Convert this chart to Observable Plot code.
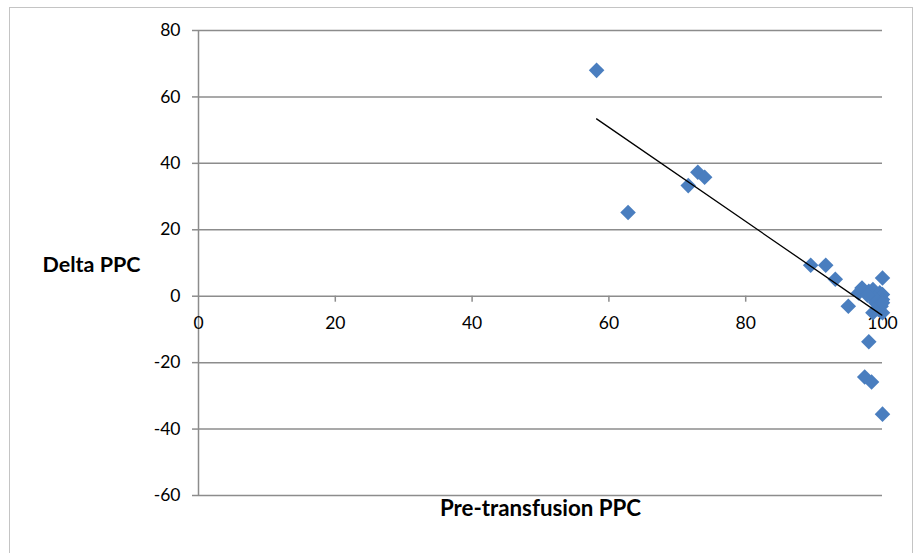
<!DOCTYPE html>
<html>
<head>
<meta charset="utf-8">
<script src="https://cdn.jsdelivr.net/npm/d3@7"></script>
<script src="https://cdn.jsdelivr.net/npm/@observablehq/plot@0.6"></script>
<style>
  html, body { margin: 0; padding: 0; background: #fff; }
  #wrap { position: relative; width: 914px; height: 553px; overflow: hidden; }
  #border { position: absolute; left: 9px; top: 7px; width: 904px; height: 560px; border: 1.5px solid #c4c4c4; box-sizing: border-box; }
  #chart { position: absolute; left: 0; top: 0; }
  svg { font-family: Lato, "Open Sans", sans-serif; }
</style>
</head>
<body>
<div id="wrap"><div id="border"></div><div id="chart"></div></div>
<script>
// Pre-transfusion PPC (x) vs Delta PPC (y)
const preTransfusionPPC = [58.2, 62.8, 71.6, 73.0, 74.0, 89.5, 91.7, 93.1, 95.0, 96.5, 97.0, 98.0, 97.4, 98.4, 100, 100,
  98.0, 98.6, 99.2, 99.6, 100, 100, 99.0, 99.8, 99.4, 98.6, 100, 98.9, 97.8, 99.5, 100];
const deltaPPC = [68, 25.2, 33.3, 37.3, 35.8, 9.3, 9.3, 5.1, -3.0, 1.0, 2.5, -13.7, -24.3, -25.8, -35.5, 5.5,
  1.5, 2.0, 0.0, 1.0, 0.5, -1.0, -2.0, -3.0, -4.0, -5.0, -5.0, -1.0, 0.3, -2.5, -2.0];
// Linear trend line endpoints
const trendX = [58.2, 99.9];
const trendY = [53.4, -5.7];
// Tick labels
const xTicks = [0, 20, 40, 60, 80, 100];
const yTicks = [80, 60, 40, 20, 0, -20, -40, -60];
const xTitle = "Pre-transfusion PPC";
const yTitle = "Delta PPC";

const points = preTransfusionPPC.map((x, i) => ({x, y: deltaPPC[i]}));
const trend = trendX.map((x, i) => ({x, y: trendY[i]}));

const gridColor = "#8c8c8c";
const plot = Plot.plot({
  width: 914,
  height: 553,
  marginLeft: 198,
  marginRight: 32,
  marginTop: 30,
  marginBottom: 58,
  x: {domain: [0, 100], axis: null},
  y: {domain: [-60, 80], axis: null},
  style: {fontSize: "17.5px", color: "#000", background: "transparent"},
  marks: [
    Plot.ruleY(yTicks, {stroke: gridColor, strokeWidth: 1.5}),
    Plot.ruleX([0], {stroke: gridColor, strokeWidth: 1.5}),
    Plot.axisY(yTicks, {ticks: yTicks, tickFormat: d => String(d), tickSize: 6, tickPadding: 12, stroke: gridColor, strokeWidth: 1.5, strokeOpacity: 1, fill: "#000", fontSize: 17.5, label: null}),
    Plot.ruleX(xTicks.filter(d => d !== 0), {x: d => d, y1: 0, y2: -1.8, stroke: gridColor, strokeWidth: 1.5}),
    Plot.text(xTicks, {x: d => d, y: 0, dy: 27, text: d => String(d), fill: "#000", fontSize: 17.5}),
    Plot.dot(points, {x: "x", y: "y", symbol: "diamond2", r: 7, fill: "#4a7ebf", stroke: "none"}),
    Plot.line(trend, {x: "x", y: "y", stroke: "#000", strokeWidth: 1.3}),
    Plot.text([yTitle], {frameAnchor: "left", text: d => d, textAnchor: "end", dx: -58, dy: 2, fontWeight: "bold", fontSize: 21.5, fill: "#000"}),
    Plot.text([xTitle], {frameAnchor: "bottom", text: d => d, dy: 20, fontWeight: "bold", fontSize: 22.3, fill: "#000"})
  ]
});
document.getElementById("chart").appendChild(plot);
</script>
</body>
</html>
